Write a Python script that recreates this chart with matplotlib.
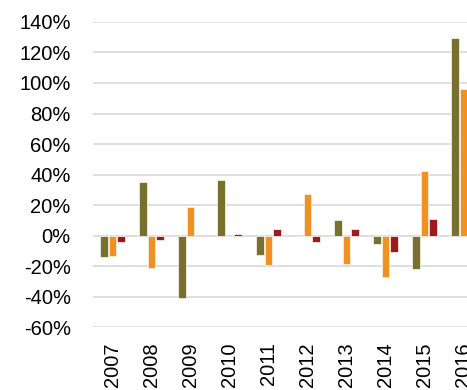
import numpy as np
from matplotlib import pyplot as plt
from matplotlib.ticker import FuncFormatter

# years on the x axis
years = ['2007', '2008', '2009', '2010', '2011', '2012', '2013', '2014', '2015', '2016']
# three series, in percent
series_a = [-14, 35, -41, 36.5, -13, 0, 10, -5.5, -22, 129.5]
series_b = [-13.5, -21.5, 19, 0, -19.5, 27.5, -19, -27, 42, 96]
series_c = [-4, -3, 0.5, 1, 4.5, -4, 4, -11, 10.5, 8]

colors = ['#77702F', '#F39120', '#A0191D']

plt.rcParams['font.family'] = ['Liberation Sans', 'DejaVu Sans']

fig = plt.figure(figsize=(4.67, 3.9), dpi=100)
ax = fig.add_axes([0.199, 0.1615, 0.835, 0.7821])

x = np.arange(len(years))
width = 0.19
offset = 0.22
for i, vals in enumerate([series_a, series_b, series_c]):
    ax.bar(x + (i - 1) * offset, vals, width, color=colors[i],
           edgecolor='#F2EDE4', linewidth=0.6, zorder=3)

# axis range and gridlines
ax.set_ylim(-60, 140)
ax.set_xlim(-0.5, len(years) - 0.5)
ax.set_yticks(np.arange(-60, 141, 20))
ax.yaxis.set_major_formatter(FuncFormatter(lambda v, p: '%d%%' % v))
ax.grid(axis='y', color='#D9D9D9', linewidth=1.2, zorder=0)
ax.set_xticks(x)
ax.set_xticklabels(years, rotation=90)

for s in ax.spines.values():
    s.set_visible(False)
ax.tick_params(axis='both', length=0, labelsize=14.5, colors='#000000')
ax.tick_params(axis='y', pad=16)
ax.tick_params(axis='x', pad=11)

plt.savefig('out.png', dpi=100)
